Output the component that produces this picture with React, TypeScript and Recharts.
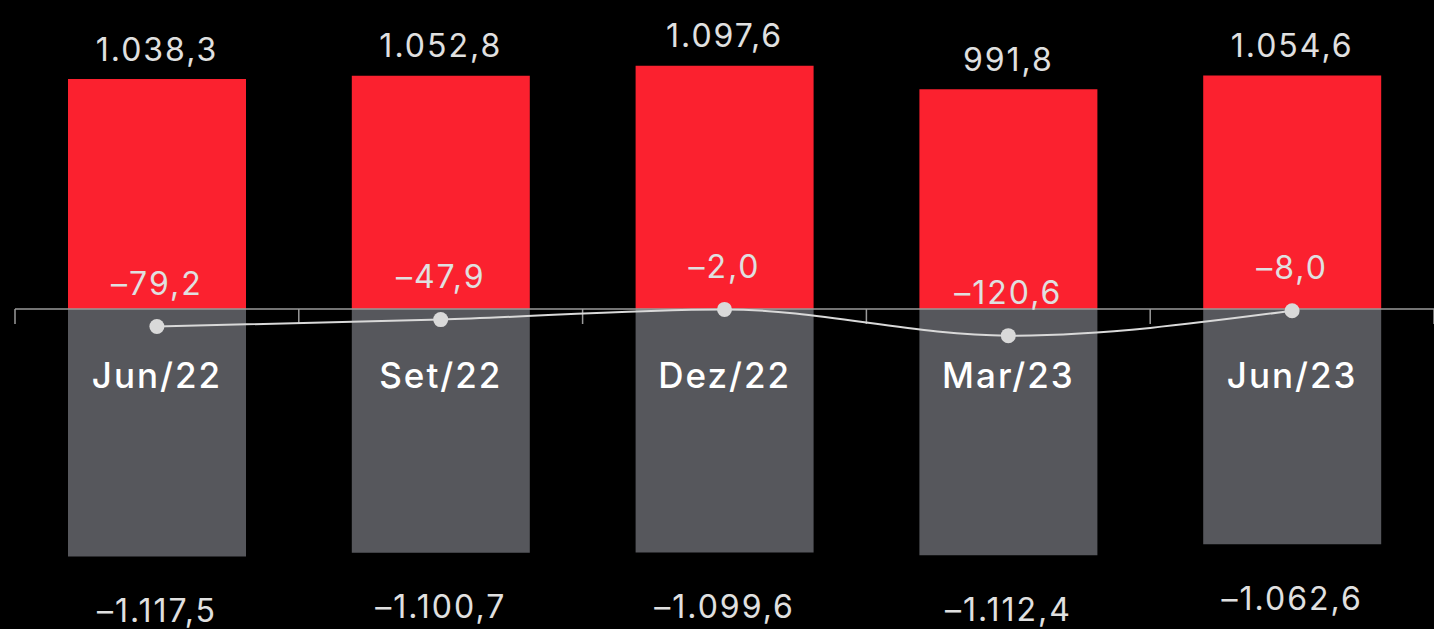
import {
  ComposedChart, Bar, Line, XAxis, YAxis, ReferenceLine, LabelList
} from 'recharts'

const categories = ['Jun/22', 'Set/22', 'Dez/22', 'Mar/23', 'Jun/23']
const positives = [1038.3, 1052.8, 1097.6, 991.8, 1054.6]
const negatives = [-1117.5, -1100.7, -1099.6, -1112.4, -1062.6]
const netValues = [-79.2, -47.9, -2.0, -120.6, -8.0]

const RED = '#fb212f'
const GREY = '#56575c'
const TEXT = '#e0e0e0'
const FONT = 'Inter, "Open Sans", sans-serif'

const fmt = (v: number) => {
  const abs = Math.abs(v)
  const [int, dec] = abs.toFixed(1).split('.')
  const grouped = int.replace(/\B(?=(\d{3})+(?!\d))/g, '.')
  return `${v < 0 ? '–' : ''}${grouped},${dec}`
}

const data = categories.map((label, i) => ({
  idx: i,
  label,
  pos: positives[i],
  neg: negatives[i],
  net: netValues[i]
}))

const boundaries = [...categories.map((_, i) => i - 0.5), categories.length - 0.5]

const PosLabel = (p: any) => {
  const top = Math.min(p.y, p.y + p.height)
  return (
    <text x={p.x + p.width / 2} y={top - 30} textAnchor="middle" dominantBaseline="central"
      fill={TEXT} fontSize={32} letterSpacing={2} fontFamily={FONT}>
      {fmt(p.value)}
    </text>
  )
}

const NegLabel = (p: any) => {
  const bottom = Math.max(p.y, p.y + p.height)
  return (
    <text x={p.x + p.width / 2} y={bottom + 54} textAnchor="middle" dominantBaseline="central"
      fill={TEXT} fontSize={32} letterSpacing={2} fontFamily={FONT}>
      {fmt(p.value)}
    </text>
  )
}

const CatLabel = (p: any) => {
  const top = Math.min(p.y, p.y + p.height)
  return (
    <text x={p.x + p.width / 2} y={top + 66} textAnchor="middle" dominantBaseline="central"
      fill="#ffffff" fontSize={35} fontWeight={500} letterSpacing={2} fontFamily={FONT}>
      {p.value}
    </text>
  )
}

const NetLabel = (p: any) => (
  <text x={p.x} y={p.y - 43} textAnchor="middle" dominantBaseline="central"
    fill={TEXT} fontSize={32} letterSpacing={2} fontFamily={FONT}>
    {fmt(p.value)}
  </text>
)

export default function App() {
  return (
    <div style={{ position: 'fixed', left: 0, top: 0, width: 1434, height: 629, background: '#000' }}>
      <ComposedChart width={1434} height={629} data={data} stackOffset="sign"
        margin={{ top: 0, right: 0, bottom: 0, left: 15 }}>
        <XAxis type="number" dataKey="idx" domain={[-0.5, 4.5]} hide />
        <YAxis type="number" domain={[-1445, 1395]} hide />
        <Bar dataKey="pos" stackId="a" fill={RED} barSize={178} isAnimationActive={false}>
          <LabelList dataKey="pos" content={PosLabel} />
        </Bar>
        <Bar dataKey="neg" stackId="a" fill={GREY} barSize={178} isAnimationActive={false}>
          <LabelList dataKey="neg" content={NegLabel} />
          <LabelList dataKey="label" content={CatLabel} />
        </Bar>
        <ReferenceLine y={0} stroke="#9a9a9a" strokeWidth={1.5} />
        {boundaries.map((b) => (
          <ReferenceLine key={b} segment={[{ x: b, y: 0 }, { x: b, y: -68 }]} stroke="#9a9a9a" strokeWidth={1.5} />
        ))}
        <Line type="monotone" dataKey="net" stroke="#d9d9d9" strokeWidth={2}
          dot={{ r: 7.5, fill: '#d9d9d9', stroke: 'none' }} activeDot={false} isAnimationActive={false}>
          <LabelList dataKey="net" content={NetLabel} />
        </Line>
      </ComposedChart>
    </div>
  )
}
